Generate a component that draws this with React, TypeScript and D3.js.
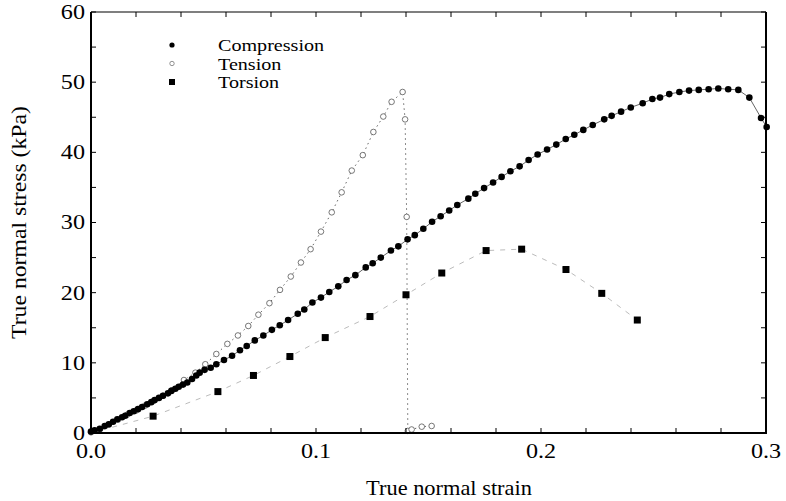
import React from "react";
import * as d3 from "d3";

const compression: [number, number][] = [
  [0, 0.2], [0.0016, 0.4], [0.0039, 0.6], [0.0061, 1.0], [0.0079, 1.25], [0.0098, 1.6],
  [0.0117, 1.95], [0.0138, 2.25], [0.0152, 2.45], [0.0172, 2.85], [0.019, 3.1], [0.0209, 3.4],
  [0.0227, 3.7], [0.025, 4.1], [0.0268, 4.4], [0.0283, 4.7], [0.0302, 5.0], [0.032, 5.3],
  [0.0342, 5.65], [0.0357, 6.0], [0.0375, 6.3], [0.039, 6.6], [0.0409, 6.9], [0.0428, 7.2],
  [0.0449, 7.7], [0.0468, 8.2], [0.0483, 8.6], [0.0505, 9.0], [0.0532, 9.3], [0.0557, 9.8],
  [0.0591, 10.4], [0.0627, 11.0], [0.0662, 11.8], [0.0692, 12.4], [0.0728, 13.2], [0.0766, 13.9],
  [0.0804, 14.7], [0.0839, 15.35], [0.0876, 16.1], [0.0919, 17.0], [0.0948, 17.6], [0.0984, 18.6],
  [0.1022, 19.3], [0.1059, 20.1], [0.1099, 20.9], [0.1136, 21.8], [0.1175, 22.5], [0.1221, 23.6],
  [0.1252, 24.2], [0.1288, 25.0], [0.1333, 26.0], [0.1366, 26.6], [0.1407, 27.6], [0.1439, 28.2],
  [0.1477, 29.1], [0.1516, 30.1], [0.1554, 30.9], [0.1592, 31.7], [0.1628, 32.5], [0.1677, 33.4],
  [0.1708, 34.1], [0.1747, 34.9], [0.1787, 35.7], [0.1825, 36.5], [0.1864, 37.3], [0.1905, 38.0],
  [0.1945, 38.9], [0.1985, 39.7], [0.2027, 40.4], [0.2068, 41.1], [0.211, 41.9], [0.2148, 42.5],
  [0.2188, 43.2], [0.223, 43.9], [0.2281, 44.7], [0.2314, 45.2], [0.2356, 45.8], [0.2399, 46.4],
  [0.2452, 47.0], [0.2495, 47.6], [0.2529, 47.8], [0.257, 48.3], [0.2615, 48.6], [0.2658, 48.8],
  [0.2701, 48.9], [0.2745, 49.0], [0.2788, 49.1], [0.2832, 49.0], [0.2877, 48.9], [0.2926, 47.8],
  [0.2978, 44.9], [0.3003, 43.6],
];

const tension: [number, number][] = [
  [0, 0.1], [0.004, 0.55], [0.008, 1.2], [0.012, 1.9], [0.016, 2.6], [0.02, 3.2],
  [0.024, 3.9], [0.028, 4.6], [0.032, 5.3], [0.036, 6.1], [0.0413, 7.55], [0.0464, 8.6],
  [0.0508, 9.8], [0.0557, 11.26], [0.0606, 12.7], [0.0653, 13.9], [0.0699, 15.25],
  [0.0744, 16.86], [0.0793, 18.5], [0.084, 20.4], [0.0888, 22.3], [0.0933, 24.3],
  [0.0976, 26.2], [0.1022, 28.7], [0.107, 31.45], [0.1114, 34.3], [0.1159, 37.4],
  [0.1208, 39.6], [0.1255, 42.9], [0.1299, 45.1], [0.1336, 47.2], [0.1385, 48.6],
  [0.1396, 44.7], [0.1403, 30.8], [0.1408, 0.3], [0.1425, 0.5], [0.147, 0.9], [0.1514, 1.0],
];

const torsion: [number, number][] = [
  [0, 0], [0.0276, 2.4], [0.0564, 5.9], [0.0722, 8.2], [0.0884, 10.9], [0.1041, 13.6],
  [0.124, 16.6], [0.14, 19.7], [0.1559, 22.8], [0.1756, 26.0], [0.1914, 26.2],
  [0.2111, 23.3], [0.227, 19.9], [0.2428, 16.1],
];

const xTickLabels = ["0.0", "0.1", "0.2", "0.3"];
const yTickValues = [0, 10, 20, 30, 40, 50, 60];
const legendLabels = ["Compression", "Tension", "Torsion"];

const W = 786;
const H = 501;
const FONT = "'Liberation Serif', 'DejaVu Serif', serif";

function SText(props: {
  x: number; y: number; size: number; sx?: number; anchor?: string; rotate?: number; dy?: string; children: React.ReactNode;
}) {
  const { x, y, size, sx = 1.15, anchor = "start", rotate = 0, dy, children } = props;
  return (
    <text
      transform={`translate(${x},${y}) rotate(${rotate}) scale(${sx},1)`}
      fontSize={size}
      textAnchor={anchor}
      dy={dy}
      fill="#000"
    >
      {children}
    </text>
  );
}

export default function App() {
  const x = d3.scaleLinear().domain([0, 0.3]).range([91, 766]);
  const y = d3.scaleLinear().domain([0, 60]).range([433, 12]);
  const line = d3
    .line<[number, number]>()
    .x((d) => x(d[0]))
    .y((d) => y(d[1]));

  const xMinor = d3.range(0, 0.3001, 0.02);
  const yMinor = d3.range(0, 60.01, 5);
  const [x0, x1] = x.range();
  const [y0, y1] = y.range();

  return (
    <svg
      width={W}
      height={H}
      style={{ position: "absolute", left: 0, top: 0, background: "#fff" }}
      fontFamily={FONT}
    >
      <rect x={0} y={0} width={W} height={H} fill="#fff" />
      {/* series lines */}
      <path d={line(compression) || ""} fill="none" stroke="#222" strokeWidth={0.7} />
      <path d={line(tension) || ""} fill="none" stroke="#555" strokeWidth={0.9} strokeDasharray="1.5,3.5" />
      <path d={line(torsion) || ""} fill="none" stroke="#aaa" strokeWidth={0.8} strokeDasharray="5,6" />

      {/* tension markers */}
      {tension.map((d, i) => (
        <circle key={"t" + i} cx={x(d[0])} cy={y(d[1])} r={2.8} fill="#fff" stroke="#555" strokeWidth={0.8} />
      ))}
      {/* compression markers */}
      {compression.map((d, i) => (
        <circle key={"c" + i} cx={x(d[0])} cy={y(d[1])} r={3.3} fill="#000" />
      ))}
      {/* torsion markers */}
      {torsion.slice(1).map((d, i) => (
        <rect key={"q" + i} x={x(d[0]) - 3.5} y={y(d[1]) - 3.5} width={7} height={7} fill="#000" />
      ))}

      {/* frame */}
      <line x1={x0} x2={x1} y1={y1} y2={y1} stroke="#000" strokeWidth={1.2} />
      <line x1={x0} x2={x0} y1={y1} y2={y0} stroke="#000" strokeWidth={2} />
      <line x1={x1} x2={x1} y1={y1} y2={y0} stroke="#000" strokeWidth={2} />
      <line x1={x0 - 1} x2={x1 + 1} y1={y0} y2={y0} stroke="#000" strokeWidth={2} />
      {/* ticks */}
      {xMinor.map((v, i) => (
        <g key={"xt" + i}>
          <line x1={x(v)} x2={x(v)} y1={y0} y2={y0 - 5} stroke="#000" strokeWidth={1} />
          <line x1={x(v)} x2={x(v)} y1={y1} y2={y1 + 5} stroke="#000" strokeWidth={1} />
        </g>
      ))}
      {yMinor.map((v, i) => (
        <g key={"yt" + i}>
          <line x1={x0} x2={x0 + 5} y1={y(v)} y2={y(v)} stroke="#000" strokeWidth={1} />
          <line x1={x1} x2={x1 - 5} y1={y(v)} y2={y(v)} stroke="#000" strokeWidth={1} />
        </g>
      ))}
      {/* x tick labels */}
      {xTickLabels.map((t, i) => (
        <SText key={"xl" + i} x={x(+t)} y={458} size={21} anchor="middle">
          {t}
        </SText>
      ))}
      {/* y tick labels */}
      {yTickValues.map((v, i) => (
        <SText key={"yl" + i} x={85} y={y(v)} dy="0.33em" size={21} anchor="end">
          {v}
        </SText>
      ))}
      {/* axis titles */}
      <SText x={449} y={495} size={20} sx={1.12} anchor="middle">
        True normal strain
      </SText>
      <SText x={26} y={(y0 + y1) / 2} size={21} sx={1.13} anchor="middle" rotate={-90}>
        True normal stress (kPa)
      </SText>

      {/* legend */}
      {legendLabels.map((l, i) => {
        const ly = 45 + i * 18.5;
        return (
          <g key={"lg" + i}>
            {i === 0 && <circle cx={172} cy={ly} r={2.6} fill="#000" />}
            {i === 1 && <circle cx={172} cy={ly} r={2.2} fill="#fff" stroke="#777" strokeWidth={0.8} />}
            {i === 2 && <rect x={169} y={ly - 3} width={6} height={6} fill="#000" />}
            <SText x={218} y={ly} dy="0.35em" size={17.5}>
              {l}
            </SText>
          </g>
        );
      })}
    </svg>
  );
}
